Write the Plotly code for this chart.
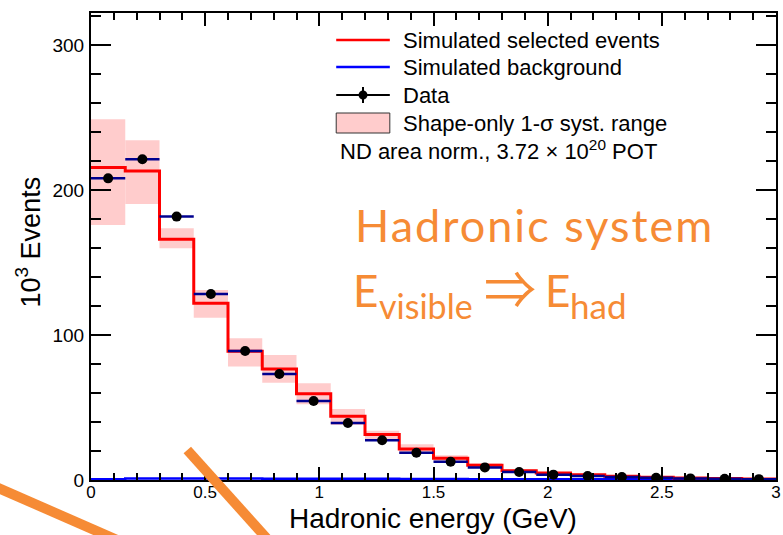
import plotly.graph_objects as go

# Hadronic energy binning (GeV)
bin_edges = [0.0, 0.15, 0.3, 0.45, 0.6, 0.75, 0.9, 1.05, 1.2, 1.35, 1.5,
             1.65, 1.8, 1.95, 2.1, 2.25, 2.4, 2.55, 2.7, 2.85, 3.0]

# Event counts per bin (10^3 events)
data_events = [208.0, 221.2, 181.6, 128.3, 89.0, 73.1, 54.5, 39.3, 27.4, 18.8,
               12.6, 8.7, 5.5, 3.7, 2.8, 2.1, 1.5, 1.1, 0.8, 0.6]
sim_selected = [215.4, 213.1, 166.0, 121.8, 88.7, 76.6, 59.5, 43.9, 31.3, 21.4,
                15.0, 10.1, 6.4, 4.8, 3.7, 2.6, 1.9, 1.4, 1.0, 0.7]
sim_background = [0.5, 1.0, 1.0, 1.0, 1.0, 0.9, 0.9, 0.8, 0.8, 0.7,
                  0.7, 0.6, 0.6, 0.5, 0.5, 0.5, 0.4, 0.4, 0.4, 0.4]
syst_high = [248.7, 234.3, 173.6, 131.0, 97.7, 86.2, 66.7, 49.0, 34.0, 24.6,
             17.0, 11.5, 7.4, 5.5, 4.3, 3.0, 2.2, 1.6, 1.2, 0.8]
syst_low = [175.9, 190.3, 159.8, 111.9, 78.2, 67.1, 52.2, 37.9, 27.6, 18.0,
            13.0, 8.8, 5.5, 4.1, 3.1, 2.2, 1.6, 1.2, 0.85, 0.6]

x_ticks = [0, 0.5, 1, 1.5, 2, 2.5, 3]
x_tick_text = ["0", "0.5", "1", "1.5", "2", "2.5", "3"]
y_ticks = [0, 100, 200, 300]
y_tick_text = ["0", "100", "200", "300"]

W, H = 783, 535
ML, MR, MT, MB = 91, 2, 13, 55
PW, PH = W - ML - MR, H - MT - MB

FONT = "Liberation Sans, Arial, Helvetica, sans-serif"
ORANGE = "#F68B35"
RED = "#FF0000"
BLUE = "#0000FF"
NAVY = "#00008F"
PINK = "#FFCCCC"


def px(xp):
    """Page pixel x -> paper coordinate."""
    return (xp - ML) / PW


def py(yp):
    """Page pixel y -> paper coordinate."""
    return (H - MB - yp) / PH


centers = [(a + b) / 2 for a, b in zip(bin_edges[:-1], bin_edges[1:])]
widths = [b - a for a, b in zip(bin_edges[:-1], bin_edges[1:])]
half_w = [w / 2 for w in widths]

fig = go.Figure()

# Shape-only systematic band
fig.add_trace(go.Bar(
    x=centers, y=[h - l for h, l in zip(syst_high, syst_low)], base=syst_low,
    width=widths, marker=dict(color=PINK, line=dict(width=0)),
    showlegend=False, hoverinfo="skip"))

# Simulated background
fig.add_trace(go.Scatter(
    x=bin_edges, y=sim_background + [sim_background[-1]], mode="lines",
    line=dict(color=BLUE, width=2.5, shape="hv"), showlegend=False))

# Simulated selected events
fig.add_trace(go.Scatter(
    x=bin_edges, y=sim_selected + [sim_selected[-1]], mode="lines",
    line=dict(color=RED, width=3, shape="hv"), showlegend=False))

# Data
fig.add_trace(go.Scatter(
    x=centers, y=data_events, mode="markers",
    marker=dict(color="black", size=10),
    error_x=dict(type="data", array=half_w, color=NAVY, thickness=2.5, width=0),
    showlegend=False))

shapes = []
annotations = []

# Legend keys
LX0, LX1 = 338, 392
shapes.append(dict(type="line", xref="paper", yref="paper", x0=px(LX0), x1=px(LX1),
                   y0=py(40), y1=py(40), line=dict(color=RED, width=2.5)))
shapes.append(dict(type="line", xref="paper", yref="paper", x0=px(LX0), x1=px(LX1),
                   y0=py(67), y1=py(67), line=dict(color=BLUE, width=2.5)))
shapes.append(dict(type="line", xref="paper", yref="paper", x0=px(LX0), x1=px(LX1),
                   y0=py(95), y1=py(95), line=dict(color="black", width=2)))
shapes.append(dict(type="line", xref="paper", yref="paper", x0=px(365), x1=px(365),
                   y0=py(87), y1=py(103), line=dict(color="black", width=2)))
shapes.append(dict(type="circle", xref="paper", yref="paper",
                   x0=px(360.5), x1=px(369.5), y0=py(90.5), y1=py(99.5),
                   fillcolor="black", line=dict(color="black", width=0)))
shapes.append(dict(type="rect", xref="paper", yref="paper", x0=px(LX0), x1=px(LX1),
                   y0=py(113), y1=py(133), fillcolor=PINK,
                   line=dict(color="#333333", width=1)))

legend_rows = [("Simulated selected events", 40),
               ("Simulated background", 67),
               ("Data", 95),
               ("Shape-only 1-σ syst. range", 123)]
for txt, yc in legend_rows:
    annotations.append(dict(text=txt, xref="paper", yref="paper", x=px(403), y=py(yc),
                            xanchor="left", yanchor="middle", showarrow=False,
                            font=dict(family=FONT, size=22, color="black")))
annotations.append(dict(text="ND area norm., 3.72 × 10<sup>20</sup> POT",
                        xref="paper", yref="paper", x=px(340), y=py(150),
                        xanchor="left", yanchor="middle", showarrow=False,
                        font=dict(family=FONT, size=22, color="black")))

# Axis titles
annotations.append(dict(text="Hadronic energy (GeV)", xref="paper", yref="paper",
                        x=px(435), y=py(518), xanchor="center", yanchor="middle",
                        showarrow=False, font=dict(family=FONT, size=28, color="black")))
annotations.append(dict(text="10<sup>3</sup> Events", xref="paper", yref="paper",
                        x=px(28), y=py(242), xanchor="center", yanchor="middle",
                        textangle=-90, showarrow=False,
                        font=dict(family=FONT, size=27, color="black")))

# Orange overlay text
OFONT = "Lato, Open Sans, sans-serif"
annotations.append(dict(text='<span style="letter-spacing:2px">Hadronic system</span>',
                        xref="paper", yref="paper",
                        x=px(355), y=py(225), xanchor="left", yanchor="middle",
                        showarrow=False, font=dict(family=OFONT, size=45, color=ORANGE)))
annotations.append(dict(text="E", xref="paper", yref="paper",
                        x=px(353), y=py(290), xanchor="left", yanchor="middle",
                        showarrow=False, font=dict(family=OFONT, size=44, color=ORANGE)))
annotations.append(dict(text="visible", xref="paper", yref="paper",
                        x=px(379), y=py(305), xanchor="left", yanchor="middle",
                        showarrow=False, font=dict(family=OFONT, size=34, color=ORANGE)))
annotations.append(dict(text="⇒", xref="paper", yref="paper",
                        x=px(485), y=py(286), xanchor="left", yanchor="middle",
                        showarrow=False,
                        font=dict(family="Noto Sans CJK JP", size=52, color=ORANGE)))
annotations.append(dict(text="E", xref="paper", yref="paper",
                        x=px(546), y=py(290), xanchor="left", yanchor="middle",
                        showarrow=False, font=dict(family=OFONT, size=44, color=ORANGE)))
annotations.append(dict(text="had", xref="paper", yref="paper",
                        x=px(571), y=py(305), xanchor="left", yanchor="middle",
                        showarrow=False, font=dict(family=OFONT, size=35, color=ORANGE)))

# Orange pointer strokes near the axis
shapes.append(dict(type="line", xref="paper", yref="paper", layer="above",
                   x0=px(-6), y0=py(486.4), x1=px(130), y1=py(545.5),
                   line=dict(color=ORANGE, width=10)))
shapes.append(dict(type="line", xref="paper", yref="paper", layer="above",
                   x0=px(188), y0=py(450), x1=px(274), y1=py(545),
                   line=dict(color=ORANGE, width=10)))

axis_common = dict(showline=True, linecolor="black", linewidth=2, mirror="allticks",
                   ticks="inside", tickcolor="black", tickwidth=1.5,
                   showgrid=False, zeroline=False, ticklabeloverflow="allow")

fig.update_layout(
    width=W, height=H,
    margin=dict(l=ML, r=MR, t=MT, b=MB, pad=0),
    paper_bgcolor="white", plot_bgcolor="white",
    showlegend=False, barmode="overlay",
    shapes=shapes, annotations=annotations,
    xaxis=dict(range=[0, 3], tickvals=x_ticks, ticktext=x_tick_text, ticklen=13,
               tickfont=dict(family=FONT, size=17, color="black"),
               ticklabelstandoff=-4,
               minor=dict(dtick=0.1, tick0=0, ticklen=7, ticks="inside",
                          tickcolor="black", tickwidth=1.5, showgrid=False),
               **axis_common),
    yaxis=dict(range=[0, 322], tickvals=y_ticks, ticktext=y_tick_text, ticklen=20,
               tickfont=dict(family=FONT, size=19, color="black"),
               ticklabelstandoff=1,
               minor=dict(dtick=20, tick0=0, ticklen=10, ticks="inside",
                          tickcolor="black", tickwidth=1.5, showgrid=False),
               **axis_common),
)

fig.write_html("out.html")
